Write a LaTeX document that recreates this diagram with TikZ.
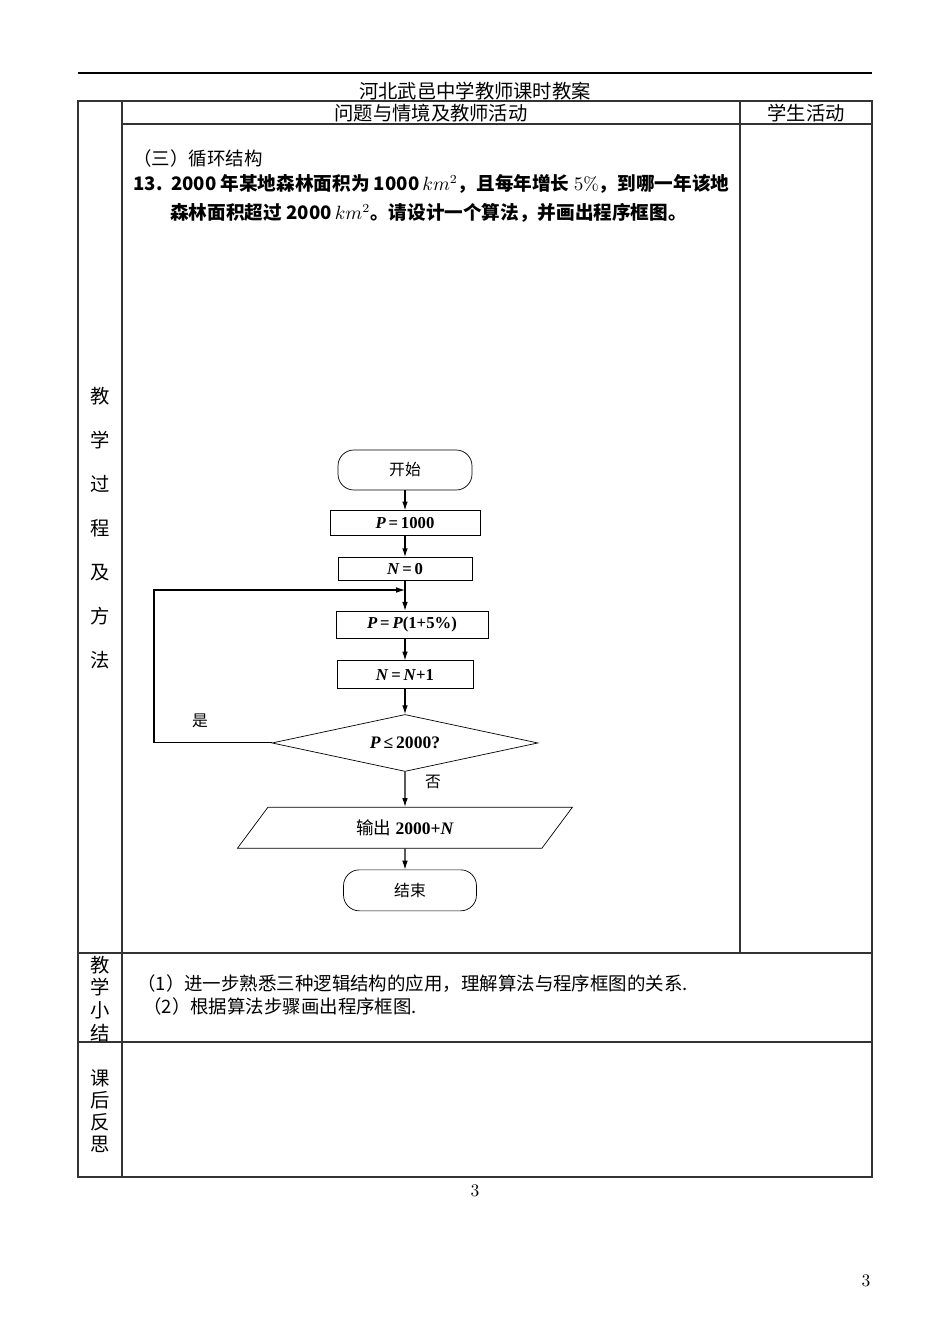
\documentclass[tikz,border=0pt]{standalone}
\usepackage{amsmath,amssymb}
\usepackage{fontspec}
\newfontfamily\cjk{Noto Sans CJK SC}
\newfontfamily\tms{Liberation Serif}
\usetikzlibrary{arrows.meta,shapes.geometric,positioning}

\begin{document}
\begin{tikzpicture}[
  x=0.02cm,y=-0.02cm,
  tline/.style={draw=black!80,line width=0.7pt},
  hd/.style={font=\cjk\fontsize{11}{13}\selectfont,inner sep=0pt},
  side/.style={font=\cjk\fontsize{11}{13}\selectfont,align=center,inner sep=0pt},
  body/.style={font=\cjk\fontsize{10.5}{13}\selectfont,anchor=west,inner sep=0pt},
  qtext/.style={body,font=\cjk\bfseries\fontsize{10.6}{13}\selectfont},
  term/.style={draw,rounded corners=9pt,minimum width=2.68cm,minimum height=0.8cm,font=\cjk\fontsize{9}{11}\selectfont},
  proc/.style={draw,inner sep=0pt,font=\tms\bfseries\fontsize{9.5}{11}\selectfont},
  test/.style={draw,diamond,aspect=5,inner sep=0pt,minimum width=5.32cm,minimum height=1.14cm,font=\tms\bfseries\fontsize{10}{12}\selectfont},
  io/.style={draw,trapezium,trapezium left angle=28,trapezium right angle=152,trapezium stretches body,inner sep=0pt,
    minimum width=6.7cm,minimum height=0.82cm,font=\tms\bfseries\fontsize{10}{12}\selectfont},
  lbl/.style={font=\cjk\fontsize{9}{11}\selectfont,inner sep=0pt},
  arr/.style={-{Latex[length=5pt,width=3.2pt]},line width=0.6pt}
]
  \useasboundingbox (0,0) rectangle (950,1342);

  % page head and table frame
  \draw[line width=1.2pt] (78,73) -- (872,73);
  \node[hd] (title) at (475,91) {河北武邑中学教师课时教案};
  \draw[tline] (78,101) rectangle (872,1177);
  \draw[tline] (122,101) -- (122,1177);
  \draw[tline] (740,101) -- (740,953);
  \draw[tline] (122,124) -- (872,124);
  \draw[tline] (78,953) -- (872,953);
  \draw[tline] (78,1042) -- (872,1042);
  \node[hd] (colq) at (431,113) {问题与情境及教师活动};
  \node[hd] (cols) at (806,113) {学生活动};

  % left column
  \node[side] (lab1) at (100,528) {教\\[12pt]学\\[12pt]过\\[12pt]程\\[12pt]及\\[12pt]方\\[12pt]法};
  \node[side] (lab2) at (100,999) {教\\学\\小\\结};
  \node[side] (lab3) at (100,1111) {课\\[-0.5pt]后\\[-0.5pt]反\\[-0.5pt]思};

  % problem text
  \node[body] (sec) at (133,158) {（三）循环结构};
  \node[qtext] (q1) at (133,184) {13.\ \ 2000 年某地森林面积为 1000\,$km^2$，且每年增长 $5\%$，到哪一年该地};
  \node[qtext] (q2) at (170,213) {森林面积超过 2000\,$km^2$。请设计一个算法，并画出程序框图。};

  % flow chart
  \node[term] (start) at (405,470) {开始};
  \node[proc,minimum width=3cm,minimum height=0.5cm,below=0.4cm of start] (setp) {\textit{P}\,=\,1000};
  \node[proc,minimum width=2.68cm,minimum height=0.46cm,below=0.42cm of setp] (setn) {\textit{N}\,=\,0};
  \node[proc,minimum width=3.04cm,minimum height=0.54cm,below=0.6cm of setn,xshift=0.14cm] (grow) {\textit{P}\,=\,\textit{P}(1+5\%)};
  \node[proc,minimum width=2.72cm,minimum height=0.56cm,below=0.44cm of grow,xshift=-0.14cm] (count) {\textit{N}\,=\,\textit{N}+1};
  \node[test,below=0.5cm of count] (check) {\textit{P}\,≤\,2000?};
  \node[io,below=0.7cm of check] (show) {{\cjk\mdseries 输出} 2000+\textit{N}};
  \node[term,minimum width=2.66cm,minimum height=0.82cm,below=0.42cm of show,xshift=0.1cm] (stop) {结束};
  \coordinate (merge) at (405,590);
  \coordinate (back) at (154,590);

  \draw[arr] (start) -- (setp);
  \draw[arr] (setp) -- (setn);
  \draw[arr] (setn) -- (setn |- grow.north);
  \draw[arr] (grow.south -| count) -- (count);
  \draw[arr] (count) -- (check);
  \draw[arr] (check) -- (show);
  \draw[arr] (show) -- (show |- stop.north);
  \draw[arr] (check.west) -| (back) -- (merge);

  \node[lbl] (yes) at (200,721) {是};
  \node[lbl] (no) at (433,782) {否};

  % summary
  \node[body] (sum1) at (137,984) {（1）进一步熟悉三种逻辑结构的应用，理解算法与程序框图的关系.};
  \node[body] (sum2) at (143,1006) {（2）根据算法步骤画出程序框图.};

  % page numbers
  \node[inner sep=0pt,font=\fontsize{10}{12}\selectfont] (pg1) at (475,1191) {3};
  \node[inner sep=0pt,font=\fontsize{10}{12}\selectfont] (pg2) at (866,1281) {3};
\end{tikzpicture}
\end{document}
